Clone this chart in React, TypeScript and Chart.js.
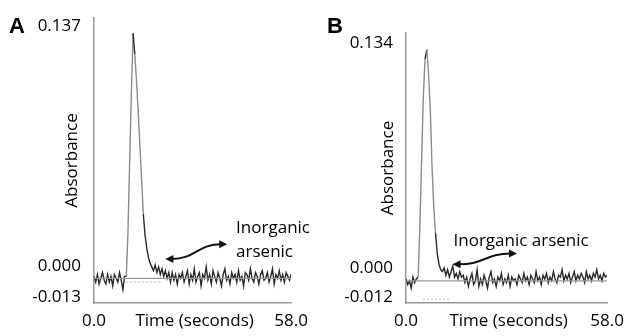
import React, { useEffect, useRef } from 'react';
import { Chart, registerables } from 'chart.js';

Chart.register(...registerables);

// ---------------- DATA ----------------
const SAMPLE_STEP_S = 0.5; // seconds between samples
const X_MIN = 0;
const X_MAX = 58;
const xTickValues = [0, 58];

// Panel A absorbance trace (milli-absorbance units), one value per sample
const absorbanceA_mAU = [
  1, -2, 2, -3, 0, 3, -1, -3, 2, -2, 1, -4, 2, 0, -2, 3, -1, -6, 1,
  1, 25, 62, 98, 129, 118, 104, 88, 70, 52, 34, 23, 16, 11, 8, 6,
  4, 7, 3, 6, 2, 5, 1, 4, 0, 3, -2, 3, -1, 2, -3, 2,
  0, 3, -2, 1, 4, -3, 2, -1, 5, -2,
  1, 3, -4, 2, 0, 6, -1, 2, -3, 4,
  1, -2, 3, 0, -4, 2, 5, -1, 1, -3,
  3, 0, 2, -2, 4, -1, 1, -4, 3, 2,
  -1, 5, 0, -2, 3, 1, -3, 2, 4, -1,
  0, 3, -2, 1, 5, -3, 2, 0, 4, -1,
  2, -2, 3, 1, -1, 2,
];

// Panel B absorbance trace (milli-absorbance units)
const absorbanceB_mAU = [
  1, -2, 0, -4, 2, -1, 1,
  2, 30, 65, 100, 120, 125, 112, 93, 62, 40, 26, 15, 9, 6, 5,
  7, 3, 6, 2, 5, 8, 2, 4, 1, 5, 2, 3,
  -1, 2, -3, 1, 4, -2, 0, 6, -3, 1,
  -2, 3, 0, -4, 2, 5, -1, 1, -3, 2,
  0, 4, -2, 1, -1, 3, -3, 2, 0, 1,
  -2, 3, 1, -1, 4, 0, 2, -2, 3, 1,
  -1, 5, 0, 2, -2, 3, 1, 4, -1, 2,
  0, 5, 1, -1, 3, 2, 6, 0, 3, 1,
  4, -1, 2, 5, 0, 3, 1, 4, 2, -1,
  5, 1, 3, 0, 4, 2, 6, 1, 3, 0,
  4, 2, 3,
];

// Y-axis ranges and tick labels
const yTicksA = [-0.013, 0, 0.137];
const yTickLabelsA = ['-0.013', '0.000', '0.137'];
const yTicksB = [-0.012, 0, 0.134];
const yTickLabelsB = ['-0.012', '0.000', '0.134'];

// Baseline reference segments [t, absorbance]
const baselineA = [[0, 0], [58, 0]];
const baselineB = [[0, 0], [58, 0]];
const dottedA = [[9.5, -0.002], [20, -0.002]];
const dottedB = [[4.9, -0.010], [12.6, -0.010]];

// Annotation (arrow ends in data units: [t, absorbance])
const arrowA = [[21, 0.0102], [39.2, 0.0179]];
const arrowB = [[13.4, 0.0089], [32, 0.0147]];
const annotTextA = ['Inorganic', 'arsenic'];
const annotTextB = ['Inorganic arsenic'];
const annotPosA = [[41.8, 0.0265], [41.8, 0.0137]];
const annotPosB = [[13.7, 0.0215]];

const FONT_FAMILY = '"Open Sans", "DejaVu Sans", sans-serif';
const FONT_SIZE = 17;
const FONT = `${FONT_SIZE}px ${FONT_FAMILY}`;

type Panel = {
  letter: string;
  values: number[];
  yTicks: number[];
  yTickLabels: string[];
  baseline: number[][];
  dotted: number[][];
  arrow: number[][];
  annotText: string[];
  annotPos: number[][];
  padding: { left: number; right: number; top: number; bottom: number };
  titlePadBottom: number;
  yLabelShift: number[];
  letterX: number;
};

const toXY = (pts: number[][]) => pts.map(([x, y]) => ({ x, y }));

function drawArrowHead(ctx: CanvasRenderingContext2D, tipX: number, tipY: number, dir: number) {
  ctx.beginPath();
  ctx.moveTo(tipX, tipY);
  ctx.lineTo(tipX - dir * 8, tipY - 4);
  ctx.lineTo(tipX - dir * 8, tipY + 4);
  ctx.closePath();
  ctx.fill();
}

function makePlugin(p: Panel) {
  return {
    id: 'panelDecor' + p.letter,
    afterDraw(chart: any) {
      const { ctx, chartArea, scales } = chart;
      const xs = scales.x;
      const ys = scales.y;
      ctx.save();
      ctx.fillStyle = '#000';
      // panel letter
      ctx.font = `bold 22px "Liberation Sans", Arial, sans-serif`;
      ctx.textAlign = 'left';
      ctx.textBaseline = 'middle';
      ctx.fillText(p.letter, p.letterX, 27);
      // y tick labels
      ctx.font = FONT;
      ctx.textAlign = 'right';
      p.yTicks.forEach((v, i) => {
        ctx.fillText(p.yTickLabels[i], chartArea.left - 13, ys.getPixelForValue(v) + p.yLabelShift[i]);
      });
      // x axis title on the tick-label row
      ctx.textAlign = 'center';
      ctx.fillText('Time (seconds)', (chartArea.left + chartArea.right) / 2 + 2, chartArea.bottom + 18);
      // annotation text
      ctx.textAlign = 'left';
      p.annotText.forEach((t, i) => {
        ctx.fillText(t, xs.getPixelForValue(p.annotPos[i][0]), ys.getPixelForValue(p.annotPos[i][1]));
      });
      // curved double arrow
      const x0 = xs.getPixelForValue(p.arrow[0][0]);
      const y0 = ys.getPixelForValue(p.arrow[0][1]);
      const x1 = xs.getPixelForValue(p.arrow[1][0]);
      const y1 = ys.getPixelForValue(p.arrow[1][1]);
      const dx = (x1 - x0) * 0.5;
      ctx.strokeStyle = '#111';
      ctx.fillStyle = '#111';
      ctx.lineWidth = 2;
      ctx.beginPath();
      ctx.moveTo(x0 + 6, y0);
      ctx.bezierCurveTo(x0 + dx, y0, x1 - dx, y1, x1 - 6, y1);
      ctx.stroke();
      drawArrowHead(ctx, x0, y0, -1);
      drawArrowHead(ctx, x1, y1, 1);
      ctx.restore();
    },
  };
}

function ChartPanel({ p, left }: { p: Panel; left: number }) {
  const ref = useRef<HTMLCanvasElement | null>(null);
  useEffect(() => {
    if (!ref.current) return;
    const trace = p.values.map((v, i) => ({ x: i * SAMPLE_STEP_S, y: v / 1000 }));
    const chart = new Chart(ref.current, {
      type: 'line',
      data: {
        datasets: [
          {
            data: toXY(p.baseline),
            borderColor: '#9a9a9a',
            borderWidth: 1.3,
            pointRadius: 0,
          },
          {
            data: toXY(p.dotted),
            borderColor: '#bdbdbd',
            borderWidth: 1,
            borderDash: [2, 2],
            pointRadius: 0,
          },
          {
            data: trace,
            borderColor: '#2a2a2a',
            borderWidth: 1.4,
            pointRadius: 0,
            tension: 0,
            segment: {
              borderColor: (c: any) =>
                Math.abs(c.p1.parsed.y - c.p0.parsed.y) > 0.012 ? '#8c8c8c' : '#2a2a2a',
            },
          },
        ],
      },
      options: {
        responsive: false,
        maintainAspectRatio: false,
        animation: false,
        events: [],
        layout: { padding: p.padding },
        plugins: { legend: { display: false }, tooltip: { enabled: false } },
        scales: {
          x: {
            type: 'linear',
            min: X_MIN,
            max: X_MAX,
            grid: { display: false, drawTicks: false },
            border: { display: true, color: '#9a9a9a', width: 1.5 },
            afterBuildTicks: (s: any) => {
              s.ticks = xTickValues.map((v) => ({ value: v }));
            },
            ticks: {
              color: '#000',
              font: { family: FONT_FAMILY, size: FONT_SIZE },
              padding: 8,
              maxRotation: 0,
              autoSkip: false,
              callback: (v: any) => Number(v).toFixed(1),
            },
          },
          y: {
            type: 'linear',
            min: p.yTicks[0],
            max: p.yTicks[p.yTicks.length - 1],
            grid: { display: false, drawTicks: false },
            border: { display: true, color: '#9a9a9a', width: 1.5 },
            ticks: { display: false },
            title: {
              display: true,
              text: 'Absorbance',
              color: '#000',
              font: { family: FONT_FAMILY, size: FONT_SIZE },
              padding: { top: 0, bottom: p.titlePadBottom },
            },
          },
        },
      },
      plugins: [makePlugin(p)],
    } as any);
    return () => chart.destroy();
  }, [p]);
  return (
    <canvas
      ref={ref}
      width={316}
      height={340}
      style={{ position: 'absolute', left, top: 0, width: 316, height: 340, display: 'block' }}
    />
  );
}

const panelA: Panel = {
  letter: 'A',
  values: absorbanceA_mAU,
  yTicks: yTicksA,
  yTickLabels: yTickLabelsA,
  baseline: baselineA,
  dotted: dottedA,
  arrow: arrowA,
  annotText: annotTextA,
  annotPos: annotPosA,
  padding: { left: 62.4, right: 18, top: 18, bottom: 0.6 },
  titlePadBottom: 11.2,
  yLabelShift: [-6, -12, 8],
  letterX: 9,
};

const panelB: Panel = {
  letter: 'B',
  values: absorbanceB_mAU,
  yTicks: yTicksB,
  yTickLabels: yTickLabelsB,
  baseline: baselineB,
  dotted: dottedB,
  arrow: arrowB,
  annotText: annotTextB,
  annotPos: annotPosB,
  padding: { left: 62.4, right: 23, top: 33, bottom: 0.6 },
  titlePadBottom: 7.2,
  yLabelShift: [-6, -13, 10],
  letterX: 11,
};

export default function App() {
  return (
    <div style={{ position: 'absolute', left: 0, top: 0, width: 632, height: 336, background: '#fff', overflow: 'hidden' }}>
      <ChartPanel p={panelA} left={0} />
      <ChartPanel p={panelB} left={316} />
    </div>
  );
}
